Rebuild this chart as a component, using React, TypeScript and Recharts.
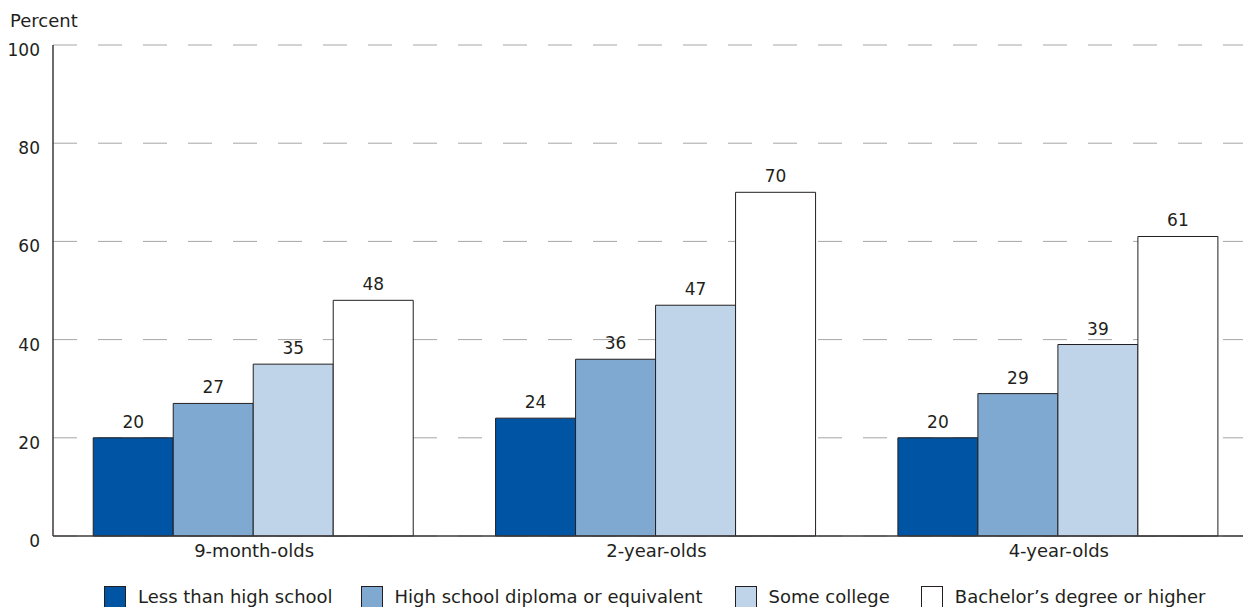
import React from 'react';
import { BarChart, Bar, XAxis, YAxis, CartesianGrid, LabelList, Legend } from 'recharts';

const categories = ['9-month-olds', '2-year-olds', '4-year-olds'];
const lessThanHighSchool = [20, 24, 20];
const highSchoolDiploma = [27, 36, 29];
const someCollege = [35, 47, 39];
const bachelorsOrHigher = [48, 70, 61];
const yTicks = [0, 20, 40, 60, 80, 100];

const seriesNames = [
  'Less than high school',
  'High school diploma or equivalent',
  'Some college',
  'Bachelor\u2019s degree or higher',
];
const seriesKeys = ['lths', 'hs', 'sc', 'ba'];
const seriesColors = ['#0054a4', '#80a9d1', '#bfd4e9', '#ffffff'];

const data = categories.map((c, i) => ({
  name: c,
  lths: lessThanHighSchool[i],
  hs: highSchoolDiploma[i],
  sc: someCollege[i],
  ba: bachelorsOrHigher[i],
}));

const TEXT = '#231f20';
const FONT = '"DejaVu Sans", sans-serif';

const YTick = (props: any) => {
  const { x, y, payload } = props;
  return (
    <text x={x} y={y + 11} textAnchor="end" fontSize={17} fill={TEXT} fontFamily={FONT}>
      {payload.value}
    </text>
  );
};

const legendGaps = [28, 32, 31, 0];

const renderLegend = () => (
  <div style={{ display: 'flex', flexDirection: 'row', whiteSpace: 'nowrap', fontFamily: FONT, fontSize: 18, color: TEXT }}>
    {seriesNames.map((n, i) => (
      <div key={n} style={{ display: 'flex', alignItems: 'center', marginRight: legendGaps[i] }}>
        <div style={{ width: 20, height: 20, background: seriesColors[i], border: `1px solid ${TEXT}` }} />
        <span style={{ marginLeft: 12, lineHeight: '22px' }}>{n}</span>
      </div>
    ))}
  </div>
);

export default function App() {
  return (
    <div style={{ width: 1243, height: 640, fontFamily: FONT, overflow: 'hidden', position: 'relative' }}>
      <BarChart
        width={1252}
        height={640}
        data={data}
        margin={{ top: 37, right: 0, bottom: 60, left: 0 }}
        barCategoryGap="10%"
        barGap={0}
      >
        <CartesianGrid vertical={false} stroke="#a6a6a6" strokeDasharray="24 21" />
        <XAxis
          dataKey="name"
          tickLine={false}
          stroke="#3f3a3b"
          strokeWidth={1.5}
          tick={{ fontSize: 18, fill: TEXT, fontFamily: FONT }}
          height={30}
        />
        <YAxis
          domain={[0, 100]}
          ticks={yTicks}
          width={45}
          tickLine={false}
          tickSize={0}
          tickMargin={13}
          stroke="#3f3a3b"
          strokeWidth={1.5}
          interval={0}
          tick={<YTick />}
          label={{
            content: () => (
              <text x={2} y={19} fontSize={18} fill={TEXT} fontFamily={FONT}>
                Percent
              </text>
            ),
          }}
        />
        <Legend
          content={renderLegend}
          wrapperStyle={{ position: 'absolute', top: 578, left: 96, width: 'auto', height: 22 }}
        />
        {seriesKeys.map((k, i) => (
          <Bar
            key={k}
            dataKey={k}
            name={seriesNames[i]}
            fill={seriesColors[i]}
            stroke={TEXT}
            strokeWidth={1}
            isAnimationActive={false}
          >
            <LabelList dataKey={k} position="top" offset={10} fontSize={17} fill={TEXT} fontFamily={FONT} />
          </Bar>
        ))}
      </BarChart>
    </div>
  );
}
